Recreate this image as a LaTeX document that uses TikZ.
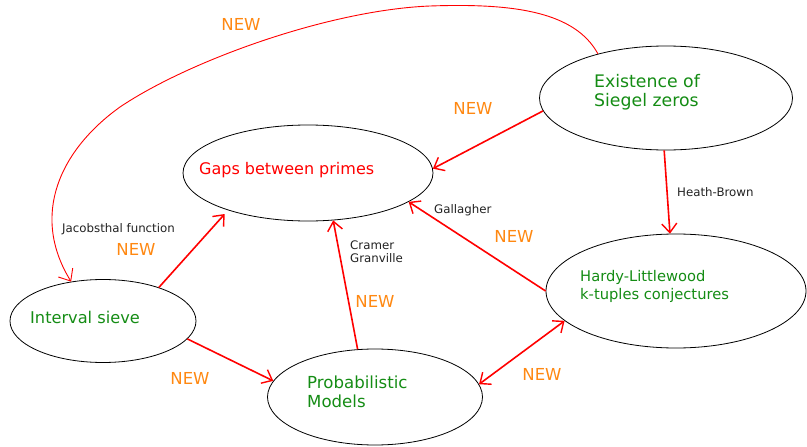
\documentclass[tikz,border=0pt]{standalone}
\usepackage{fontspec}
\setmainfont{DejaVu Sans}
\usetikzlibrary{shapes.geometric,arrows.meta}
\definecolor{tgreen}{RGB}{20,140,20}
\definecolor{torange}{RGB}{255,136,17}
\definecolor{tgray}{RGB}{34,34,34}
\begin{document}
\begin{tikzpicture}[x=1pt,y=-1pt,
  topic/.style={ellipse,draw=black,line width=0.8pt,inner sep=0pt},
  topictext/.style={anchor=base west,inner sep=0pt,align=left,text=tgreen},
  link/.style={draw=red,line width=1.6pt,-{Straight Barb[length=9pt,width=15pt,line width=1.4pt]}},
  dlink/.style={draw=red,line width=1.6pt,{Straight Barb[length=9pt,width=15pt,line width=1.4pt]}-{Straight Barb[length=9pt,width=15pt,line width=1.4pt]}},
  thinlink/.style={draw=red,line width=0.9pt,-{Straight Barb[length=10pt,width=17pt,line width=0.9pt]}},
  newlabel/.style={text=torange,font=\fontsize{16.5}{19}\selectfont,inner sep=0pt},
  small/.style={anchor=base west,text=tgray,font=\fontsize{11.8}{13}\selectfont,inner sep=0pt,align=left}]
\useasboundingbox (0,0) rectangle (807,447);
% ellipses
\node[topic,minimum width=250pt,minimum height=96pt] (gaps) at (308,173) {};
\node[topic,minimum width=253pt,minimum height=104pt] (sieg) at (666,98) {};
\node[topic,minimum width=260pt,minimum height=114pt] (hardy) at (676,291) {};
\node[topic,minimum width=186pt,minimum height=83pt] (int) at (103,321) {};
\node[topic,minimum width=215pt,minimum height=96pt] (prob) at (375,397) {};
% texts (base anchor = last line)
\node[topictext,text=red,font=\fontsize{16}{19}\selectfont] (gapst) at (199,174) {Gaps between primes};
\node[topictext,font=\fontsize{17.3}{19.4}\selectfont] (siegt) at (594,106.7) {Existence of\\Siegel zeros};
\node[topictext,font=\fontsize{14.7}{17.6}\selectfont] (hardyt) at (580,299.3) {Hardy-Littlewood\\k-tuples conjectures};
\node[topictext,font=\fontsize{16.2}{19}\selectfont] (intt) at (30,323.3) {Interval sieve};
\node[topictext,font=\fontsize{16.6}{19}\selectfont] (probt) at (307,407.3) {Probabilistic\\Models};
% connectors
\draw[link,shorten >=5pt] (int.31) -- (gaps.-155);
\draw[link] (int.-12.6) -- (prob.171);
\draw[link] (prob.110) -- (gaps.-62);
\draw[link] (sieg.186) -- (gaps.2);
\draw[link] (sieg.-92) -- (hardy.96);
\draw[link] (hardy.180) -- (gaps.-16);
\draw[dlink] (hardy.195.6) -- (prob.7);
\draw[thinlink] (sieg.147) .. controls (575,12) and (515,3) .. (430,6)
  .. controls (330,10) and (190,60) .. (120,107)
  .. controls (60,150) and (30,215) .. (int.129);
% labels
\node[newlabel] (n1) at (241,24) {NEW};
\node[newlabel] (n2) at (473,108.5) {NEW};
\node[newlabel] (n3) at (136,249) {NEW};
\node[newlabel] (n4) at (375,301) {NEW};
\node[newlabel] (n5) at (514,236) {NEW};
\node[newlabel] (n6) at (190,378) {NEW};
\node[newlabel] (n7) at (542,374) {NEW};
\node[small] (jac) at (62,232) {Jacobsthal function};
\node[small] (cram) at (350,262) {Cramer\\Granville};
\node[small] (gall) at (434,213) {Gallagher};
\node[small] (heath) at (677,196) {Heath-Brown};
\end{tikzpicture}
\end{document}
